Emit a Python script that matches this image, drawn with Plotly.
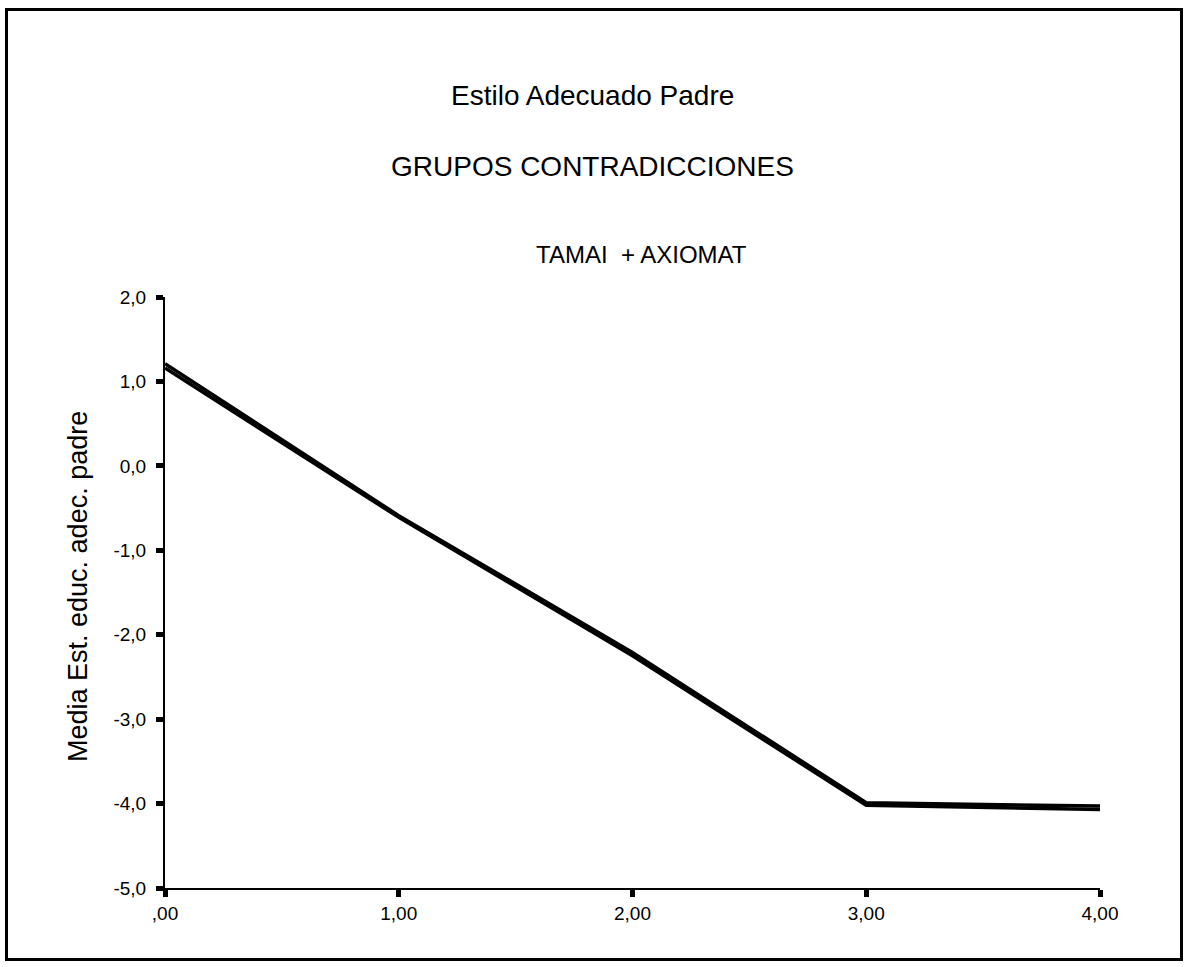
import plotly.graph_objects as go

# Group values (x) and mean scores for the two overlapping series
grupos = [0, 1, 2, 3, 4]
media_serie_a = [1.21, -0.59, -2.21, -3.99, -4.03]
media_serie_b = [1.16, -0.61, -2.25, -4.02, -4.07]

x_tickvals = [0, 1, 2, 3, 4]
x_ticktext = [",00", "1,00", "2,00", "3,00", "4,00"]
y_tickvals = [2, 1, 0, -1, -2, -3, -4, -5]
y_ticktext = ["2,0", "1,0", "0,0", "-1,0", "-2,0", "-3,0", "-4,0", "-5,0"]

FONT = "Liberation Sans, Arial, sans-serif"
W, H = 1187, 967
L, R, T, B = 165, 87, 297, 79
PW, PH = W - L - R, H - T - B


def px_to_paper_x(p):
    return (p - L) / PW


def px_to_paper_y(q):
    return (H - B - q) / PH


fig = go.Figure()
for ys in (media_serie_a, media_serie_b):
    fig.add_trace(go.Scatter(
        x=grupos, y=ys, mode="lines",
        line=dict(color="black", width=3.5),
        showlegend=False, hoverinfo="skip",
    ))

titles = [
    ("Estilo Adecuado Padre", 592, 95, 28),
    ("GRUPOS CONTRADICCIONES", 592, 167, 28),
    ("TAMAI  + AXIOMAT", 641, 254, 24),
]
annotations = [
    dict(text=t, x=px_to_paper_x(xp), y=px_to_paper_y(yp), xref="paper", yref="paper",
         xanchor="center", yanchor="middle", showarrow=False,
         font=dict(family=FONT, size=s, color="black"))
    for t, xp, yp, s in titles
]
annotations.append(dict(
    text="Media Est. educ. adec. padre", x=px_to_paper_x(78), y=px_to_paper_y(587),
    xref="paper", yref="paper", xanchor="center", yanchor="middle", showarrow=False,
    textangle=-90, font=dict(family=FONT, size=27, color="black"),
))

fig.update_layout(
    width=W, height=H,
    margin=dict(l=L, r=R, t=T, b=B),
    paper_bgcolor="white", plot_bgcolor="white",
    font=dict(family=FONT, color="black"),
    annotations=annotations,
    shapes=[dict(
        type="rect", xref="paper", yref="paper",
        x0=px_to_paper_x(6.5), x1=px_to_paper_x(1181.5),
        y0=px_to_paper_y(959.5), y1=px_to_paper_y(9.5),
        line=dict(color="black", width=3), layer="below",
    )],
    xaxis=dict(
        range=[0, 4], tickvals=x_tickvals, ticktext=x_ticktext,
        showgrid=False, zeroline=False, showline=True, linecolor="black", linewidth=2,
        ticks="outside", ticklen=7, tickwidth=5, tickcolor="black",
        tickfont=dict(family=FONT, size=19, color="black"),
    ),
    yaxis=dict(
        range=[-5, 2], tickvals=y_tickvals, ticktext=y_ticktext,
        showgrid=False, zeroline=False, showline=True, linecolor="black", linewidth=2,
        ticks="outside", ticklen=7, tickwidth=5, tickcolor="black",
        ticklabelstandoff=6,
        tickfont=dict(family=FONT, size=19, color="black"),
    ),
)

fig.write_html("out.html")
